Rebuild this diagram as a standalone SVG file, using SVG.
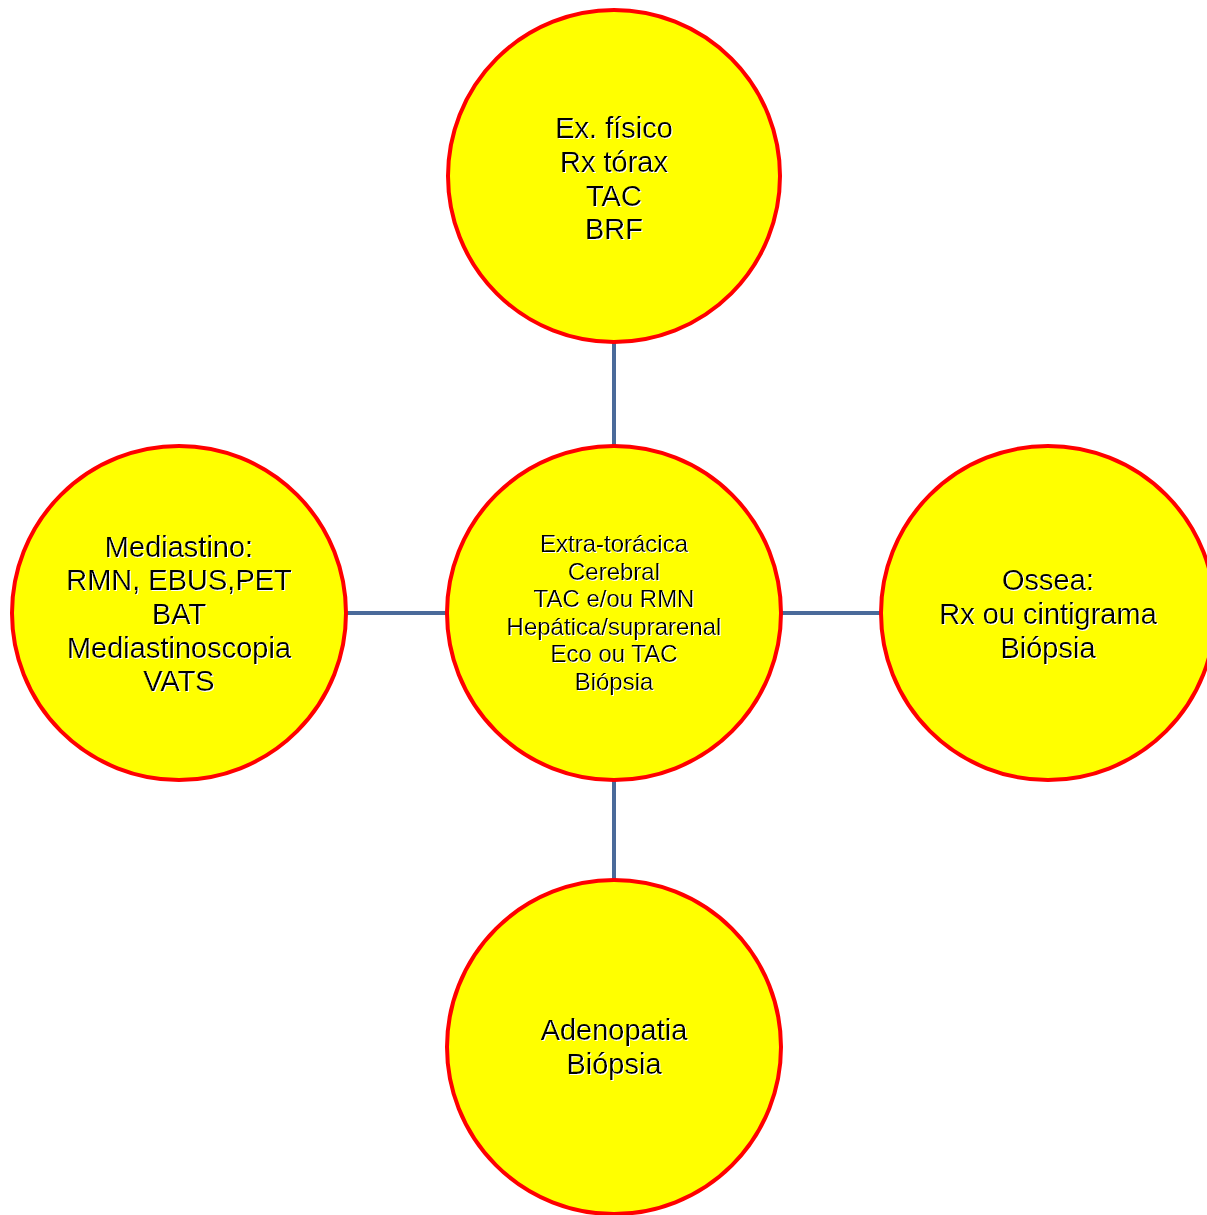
<svg xmlns="http://www.w3.org/2000/svg" width="1207" height="1215" viewBox="0 0 1207 1215">
<style>
.node circle{fill:#ffff00;stroke:#ff0000;stroke-width:4}
.lbl{font-family:"Liberation Sans",Arial,sans-serif;font-size:29px;fill:#000;text-anchor:middle;filter:url(#glow)}
.sm{font-size:24px}
.conn line{stroke:#4a6a9a;stroke-width:4}
</style>
<defs>
<filter id="glow" x="-10%" y="-30%" width="120%" height="160%">
<feDropShadow dx="1" dy="1" stdDeviation="0.6" flood-color="#ffffff" flood-opacity="1"/>
</filter>
</defs>
<rect width="1207" height="1215" fill="#ffffff"/>
<g id="connectors" class="conn">
<line x1="614" y1="343" x2="614" y2="446"/>
<line x1="614" y1="781" x2="614" y2="880"/>
<line x1="346" y1="613" x2="446" y2="613"/>
<line x1="781" y1="613" x2="881" y2="613"/>
</g>
<g id="node-top" class="node">
<circle cx="614" cy="176" r="166"/>
<text class="lbl" x="614" y="138">Ex. físico</text>
<text class="lbl" x="614" y="172">Rx tórax</text>
<text class="lbl" x="614" y="206">TAC</text>
<text class="lbl" x="614" y="239">BRF</text>
</g>
<g id="node-center" class="node">
<circle cx="614" cy="613" r="167"/>
<text class="lbl sm" x="614" y="552">Extra-torácica</text>
<text class="lbl sm" x="614" y="580">Cerebral</text>
<text class="lbl sm" x="614" y="607">TAC e/ou RMN</text>
<text class="lbl sm" x="614" y="635">Hepática/suprarenal</text>
<text class="lbl sm" x="614" y="662">Eco ou TAC</text>
<text class="lbl sm" x="614" y="690">Biópsia</text>
</g>
<g id="node-left" class="node">
<circle cx="179" cy="613" r="167"/>
<text class="lbl" x="179" y="557">Mediastino:</text>
<text class="lbl" x="179" y="590">RMN, EBUS,PET</text>
<text class="lbl" x="179" y="624">BAT</text>
<text class="lbl" x="179" y="658">Mediastinoscopia</text>
<text class="lbl" x="179" y="691">VATS</text>
</g>
<g id="node-right" class="node">
<circle cx="1048" cy="613" r="167"/>
<text class="lbl" x="1048" y="590">Ossea:</text>
<text class="lbl" x="1048" y="624">Rx ou cintigrama</text>
<text class="lbl" x="1048" y="658">Biópsia</text>
</g>
<g id="node-bottom" class="node">
<circle cx="614" cy="1047" r="167"/>
<text class="lbl" x="614" y="1040">Adenopatia</text>
<text class="lbl" x="614" y="1074">Biópsia</text>
</g>
</svg>
